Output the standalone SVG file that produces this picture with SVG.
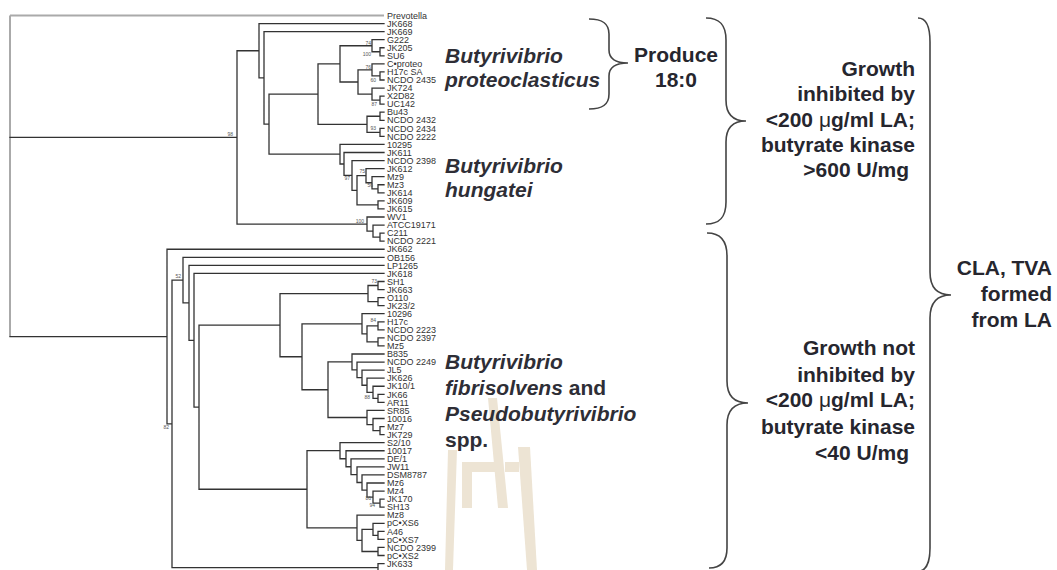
<svg xmlns="http://www.w3.org/2000/svg" width="1057" height="570" viewBox="0 0 1057 570">
<style>
.bg{fill:#ffffff}
.wm{fill:#ede4d4}
.br{fill:none;stroke:#333;stroke-width:1.3;stroke-linecap:square}
.gr{fill:none;stroke:#aaaaaa;stroke-width:2}
.lf{font-family:"Liberation Sans",Arial,sans-serif;font-size:9px;fill:#333}
.bs{font-family:"Liberation Sans",Arial,sans-serif;font-size:5px;fill:#555;text-anchor:end}
.sp{font-family:"Liberation Sans",Arial,sans-serif;font-size:21px;font-weight:bold;font-style:italic;fill:#2e2e36}
.up{font-style:normal}
.ct{font-family:"Liberation Sans",Arial,sans-serif;font-size:21px;font-weight:bold;fill:#26262e;text-anchor:middle}
.rt{font-family:"Liberation Sans",Arial,sans-serif;font-size:21px;font-weight:bold;fill:#26262e;text-anchor:end}
.mu{font-weight:normal}
.brace{fill:none;stroke:#444;stroke-width:1.6}
</style>
<rect class="bg" x="0" y="0" width="1057" height="570"/>
<g id="watermark">
<polygon class="wm" points="448,450 457,450 453,570 445,570"/>
<rect class="wm" x="462" y="462" width="10" height="46"/>
<rect class="wm" x="462" y="462" width="36" height="10"/>
<polygon class="wm" points="488,398 497,398 508,508 498,508"/>
<rect class="wm" x="505" y="462" width="14" height="10"/>
<polygon class="wm" points="518,447 530,447 537,570 527,570"/>
</g>
<g id="connectors">
<path class="gr" d="M10 15.5V336.54 M10 15.5H384"/>
<path class="br" d="M10 137.39H237 M10 336.54H167
M380 47.74V55.8 M380 47.74H384 M380 55.8H384
M372 39.68V51.77 M372 39.68H384 M372 51.77H380
M380 71.92V79.98 M380 71.92H384 M380 79.98H384
M372 63.86V75.95 M372 63.86H384 M372 75.95H380
M380 96.1V104.16 M380 96.1H384 M380 104.16H384
M372 88.04V100.13 M372 88.04H384 M372 100.13H380
M358 69.9V94.09 M358 69.9H372 M358 94.09H372
M340 45.73V82 M340 45.73H372 M340 82H358
M380 112.22V120.28 M380 112.22H384 M380 120.28H384
M380 128.34V136.4 M380 128.34H384 M380 136.4H384
M367 116.25V132.37 M367 116.25H380 M367 132.37H380
M318 63.86V124.31 M318 63.86H340 M318 124.31H367
M378 184.76V192.82 M378 184.76H384 M378 192.82H384
M372 176.7V188.79 M372 176.7H384 M372 188.79H378
M366 168.64V182.75 M366 168.64H384 M366 182.75H372
M378 200.88V208.94 M378 200.88H384 M378 208.94H384
M357 175.7V204.91 M357 175.7H366 M357 204.91H378
M352 160.58V190.3 M352 160.58H384 M352 190.3H357
M344 152.52V175.44 M344 152.52H384 M344 175.44H352
M340 144.46V163.98 M340 144.46H384 M340 163.98H344
M269 94.09V154.22 M269 94.09H318 M269 154.22H340
M264 31.62V124.16 M264 31.62H384 M264 124.16H269
M259 23.56V77.89 M259 23.56H384 M259 77.89H264
M380 233.12V241.18 M380 233.12H384 M380 241.18H384
M373 225.06V237.15 M373 225.06H384 M373 237.15H380
M367 217V231.1 M367 217H384 M367 231.1H373
M237 50.73V224.05 M237 50.73H259 M237 224.05H367
M378 281.48V289.54 M378 281.48H384 M378 289.54H384
M378 297.6V305.66 M378 297.6H384 M378 305.66H384
M368 285.51V301.63 M368 285.51H378 M368 301.63H378
M378 321.78V329.84 M378 321.78H384 M378 329.84H384
M378 337.9V345.96 M378 337.9H384 M378 345.96H384
M367 325.81V341.93 M367 325.81H378 M367 341.93H378
M362 313.72V333.87 M362 313.72H384 M362 333.87H367
M378 394.32V402.38 M378 394.32H384 M378 402.38H384
M373 386.26V398.35 M373 386.26H384 M373 398.35H378
M367 378.2V392.31 M367 378.2H384 M367 392.31H373
M362 370.14V385.26 M362 370.14H384 M362 385.26H367
M357 362.08V377.7 M357 362.08H384 M357 377.7H362
M352 354.02V369.89 M352 354.02H384 M352 369.89H357
M380 426.56V434.62 M380 426.56H384 M380 434.62H384
M373 418.5V430.59 M373 418.5H384 M373 430.59H380
M367 410.44V424.55 M367 410.44H384 M367 424.55H373
M328 361.96V417.5 M328 361.96H352 M328 417.5H367
M302 323.8V389.73 M302 323.8H362 M302 389.73H328
M280 293.57V356.77 M280 293.57H368 M280 356.77H302
M380 499.1V507.16 M380 499.1H384 M380 507.16H384
M373 491.04V503.13 M373 491.04H384 M373 503.13H380
M367 482.98V497.09 M367 482.98H384 M367 497.09H373
M362 474.92V490.04 M362 474.92H384 M362 490.04H367
M357 466.86V482.48 M357 466.86H384 M357 482.48H362
M351 458.8V474.67 M351 458.8H384 M351 474.67H357
M346 450.74V466.74 M346 450.74H384 M346 466.74H351
M340 442.68V458.74 M340 442.68H384 M340 458.74H346
M378 531.34V539.4 M378 531.34H384 M378 539.4H384
M373 523.28V535.37 M373 523.28H384 M373 535.37H378
M378 547.46V555.52 M378 547.46H384 M378 555.52H384
M362 529.33V551.49 M362 529.33H373 M362 551.49H378
M357 515.22V540.41 M357 515.22H384 M357 540.41H362
M307 450.71V527.82 M307 450.71H340 M307 527.82H357
M199 325.17V489.27 M199 325.17H280 M199 489.27H307
M194 273.42V407.22 M194 273.42H384 M194 407.22H199
M189 265.36V340.32 M189 265.36H384 M189 340.32H194
M183 257.3V302.84 M183 257.3H384 M183 302.84H189
M378 563.58V571.64 M378 563.58H384 M378 571.64H384
M172 280.07V567.61 M172 280.07H183 M172 567.61H378
M167 249.24V423.84 M167 249.24H384 M167 423.84H172"/>
<path class="brace" d="M589 19 C602 19 609 23 609 34 L609 50 C609 58 614 63 628 63 C614 63 609 68 609 76 L609 94 C609 105 602 109 589 109"/>
<path class="brace" d="M706 18 C719 18 726 24 726 40 L726 100 C726 113 732 121 746 121 C732 121 726 129 726 142 L726 202 C726 218 719 224 706 224"/>
<path class="brace" d="M707 233 C720 233 727 240 727 256 L727 381 C727 395 733 403 748 403 C733 403 727 411 727 425 L727 548 C727 562 720 568 709 568"/>
<path class="brace" d="M918 18 C926 18 930 26 930 42 L930 272 C930 287 937 295 951 295 C937 295 930 303 930 318 L930 548 C930 562 926 570 920 571"/>
</g>
<g id="bootstrap">
<text class="bs" x="233" y="135.5">98</text>
<text class="bs" x="371" y="44.5">74</text>
<text class="bs" x="371" y="56">100</text>
<text class="bs" x="371" y="68.5">76</text>
<text class="bs" x="376" y="82">60</text>
<text class="bs" x="377" y="106">87</text>
<text class="bs" x="376" y="130">93</text>
<text class="bs" x="350" y="180">97</text>
<text class="bs" x="365" y="173">75</text>
<text class="bs" x="373" y="187">56</text>
<text class="bs" x="364" y="222.5">100</text>
<text class="bs" x="181" y="277.5">52</text>
<text class="bs" x="169" y="429">82</text>
<text class="bs" x="377" y="282.5">73</text>
<text class="bs" x="376" y="322">84</text>
<text class="bs" x="370" y="398.5">88</text>
<text class="bs" x="371" y="499.5">86</text>
<text class="bs" x="375" y="507">94</text>
</g>
<g id="leaves">
<text id="l0" class="lf" x="387" y="18.7">Prevotella</text>
<text id="l1" class="lf" x="387" y="26.76">JK668</text>
<text id="l2" class="lf" x="387" y="34.82">JK669</text>
<text id="l3" class="lf" x="387" y="42.88">G222</text>
<text id="l4" class="lf" x="387" y="50.94">JK205</text>
<text id="l5" class="lf" x="387" y="59">SU6</text>
<text id="l6" class="lf" x="387" y="67.06">C•proteo</text>
<text id="l7" class="lf" x="387" y="75.12">H17c SA</text>
<text id="l8" class="lf" x="387" y="83.18">NCDO 2435</text>
<text id="l9" class="lf" x="387" y="91.24">JK724</text>
<text id="l10" class="lf" x="387" y="99.3">X2D82</text>
<text id="l11" class="lf" x="387" y="107.36">UC142</text>
<text id="l12" class="lf" x="387" y="115.42">Bu43</text>
<text id="l13" class="lf" x="387" y="123.48">NCDO 2432</text>
<text id="l14" class="lf" x="387" y="131.54">NCDO 2434</text>
<text id="l15" class="lf" x="387" y="139.6">NCDO 2222</text>
<text id="l16" class="lf" x="387" y="147.66">10295</text>
<text id="l17" class="lf" x="387" y="155.72">JK611</text>
<text id="l18" class="lf" x="387" y="163.78">NCDO 2398</text>
<text id="l19" class="lf" x="387" y="171.84">JK612</text>
<text id="l20" class="lf" x="387" y="179.9">Mz9</text>
<text id="l21" class="lf" x="387" y="187.96">Mz3</text>
<text id="l22" class="lf" x="387" y="196.02">JK614</text>
<text id="l23" class="lf" x="387" y="204.08">JK609</text>
<text id="l24" class="lf" x="387" y="212.14">JK615</text>
<text id="l25" class="lf" x="387" y="220.2">WV1</text>
<text id="l26" class="lf" x="387" y="228.26">ATCC19171</text>
<text id="l27" class="lf" x="387" y="236.32">C211</text>
<text id="l28" class="lf" x="387" y="244.38">NCDO 2221</text>
<text id="l29" class="lf" x="387" y="252.44">JK662</text>
<text id="l30" class="lf" x="387" y="260.5">OB156</text>
<text id="l31" class="lf" x="387" y="268.56">LP1265</text>
<text id="l32" class="lf" x="387" y="276.62">JK618</text>
<text id="l33" class="lf" x="387" y="284.68">SH1</text>
<text id="l34" class="lf" x="387" y="292.74">JK663</text>
<text id="l35" class="lf" x="387" y="300.8">O110</text>
<text id="l36" class="lf" x="387" y="308.86">JK23/2</text>
<text id="l37" class="lf" x="387" y="316.92">10296</text>
<text id="l38" class="lf" x="387" y="324.98">H17c</text>
<text id="l39" class="lf" x="387" y="333.04">NCDO 2223</text>
<text id="l40" class="lf" x="387" y="341.1">NCDO 2397</text>
<text id="l41" class="lf" x="387" y="349.16">Mz5</text>
<text id="l42" class="lf" x="387" y="357.22">B835</text>
<text id="l43" class="lf" x="387" y="365.28">NCDO 2249</text>
<text id="l44" class="lf" x="387" y="373.34">JL5</text>
<text id="l45" class="lf" x="387" y="381.4">JK626</text>
<text id="l46" class="lf" x="387" y="389.46">JK10/1</text>
<text id="l47" class="lf" x="387" y="397.52">JK66</text>
<text id="l48" class="lf" x="387" y="405.58">AR11</text>
<text id="l49" class="lf" x="387" y="413.64">SR85</text>
<text id="l50" class="lf" x="387" y="421.7">10016</text>
<text id="l51" class="lf" x="387" y="429.76">Mz7</text>
<text id="l52" class="lf" x="387" y="437.82">JK729</text>
<text id="l53" class="lf" x="387" y="445.88">S2/10</text>
<text id="l54" class="lf" x="387" y="453.94">10017</text>
<text id="l55" class="lf" x="387" y="462">DE/1</text>
<text id="l56" class="lf" x="387" y="470.06">JW11</text>
<text id="l57" class="lf" x="387" y="478.12">DSM8787</text>
<text id="l58" class="lf" x="387" y="486.18">Mz6</text>
<text id="l59" class="lf" x="387" y="494.24">Mz4</text>
<text id="l60" class="lf" x="387" y="502.3">JK170</text>
<text id="l61" class="lf" x="387" y="510.36">SH13</text>
<text id="l62" class="lf" x="387" y="518.42">Mz8</text>
<text id="l63" class="lf" x="387" y="526.48">pC•XS6</text>
<text id="l64" class="lf" x="387" y="534.54">A46</text>
<text id="l65" class="lf" x="387" y="542.6">pC•XS7</text>
<text id="l66" class="lf" x="387" y="550.66">NCDO 2399</text>
<text id="l67" class="lf" x="387" y="558.72">pC•XS2</text>
<text id="l68" class="lf" x="387" y="566.78">JK633</text>
</g>
<g id="proteoclasticus">
<text class="sp" x="445" y="63">Butyrivibrio</text>
<text class="sp" x="445" y="87">proteoclasticus</text>
</g>
<g id="hungatei">
<text class="sp" x="445" y="173">Butyrivibrio</text>
<text class="sp" x="445" y="197">hungatei</text>
</g>
<g id="fibrisolvens">
<text class="sp" x="445" y="369">Butyrivibrio</text>
<text class="sp" x="445" y="395">fibrisolvens<tspan class="up"> and</tspan></text>
<text class="sp" x="445" y="421">Pseudobutyrivibrio</text>
<text class="sp up" x="445" y="447">spp.</text>
</g>
<g id="produce">
<text class="ct" x="676" y="62">Produce</text>
<text class="ct" x="676" y="87">18:0</text>
</g>
<g id="inhibited">
<text class="rt" x="915" y="75.5">Growth</text>
<text class="rt" x="915" y="101">inhibited by</text>
<text class="rt" x="915" y="126.5">&lt;200 <tspan class="mu">μ</tspan>g/ml LA;</text>
<text class="rt" x="915" y="152">butyrate kinase</text>
<text class="rt" x="909" y="177">&gt;600 U/mg</text>
</g>
<g id="not-inhibited">
<text class="rt" x="915" y="355">Growth not</text>
<text class="rt" x="915" y="381.5">inhibited by</text>
<text class="rt" x="915" y="407">&lt;200 <tspan class="mu">μ</tspan>g/ml LA;</text>
<text class="rt" x="915" y="433.5">butyrate kinase</text>
<text class="rt" x="909" y="459.5">&lt;40 U/mg</text>
</g>
<g id="cla">
<text class="rt" x="1052" y="275">CLA, TVA</text>
<text class="rt" x="1052" y="301">formed</text>
<text class="rt" x="1052" y="327">from LA</text>
</g>
</svg>
